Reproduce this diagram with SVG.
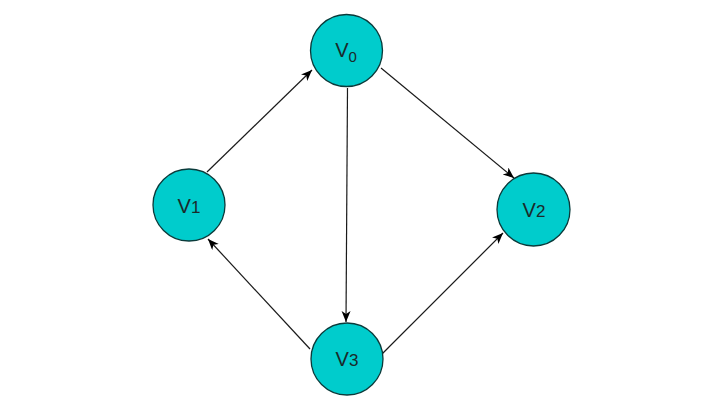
<svg xmlns="http://www.w3.org/2000/svg" width="720" height="405" viewBox="0 0 720 405">
  <style>
    .node circle { fill: #00CCCC; stroke: #0a3a3a; stroke-width: 1.3; }
    .node text { font-family: "Liberation Sans", Arial, sans-serif; font-size: 20px; fill: #1a2a2a; text-anchor: middle; }
    .sub { font-size: 15px; }
    .edge { stroke: #1a1a1a; stroke-width: 1.2; fill: none; marker-end: url(#arrow); }
  </style>
  <defs>
    <marker id="arrow" markerUnits="userSpaceOnUse" markerWidth="12" markerHeight="10" refX="11" refY="4.5" orient="auto" viewBox="0 0 12 10">
      <path d="M11,4.5 L0,0 L3,4.5 L0,9 Z" fill="#000"/>
    </marker>
  </defs>
  <rect width="720" height="405" fill="#ffffff"/>
  <g id="connectors">
    <line class="edge" x1="207" y1="172" x2="312" y2="70"/>
    <line class="edge" x1="381" y1="68" x2="514" y2="178"/>
    <line class="edge" x1="347.5" y1="88" x2="346" y2="322"/>
    <line class="edge" x1="310" y1="349" x2="208" y2="239"/>
    <line class="edge" x1="382" y1="354" x2="503" y2="233"/>
  </g>
  <g id="v0" class="node">
    <circle cx="346.5" cy="50.5" r="36"/>
    <text x="346" y="57">V<tspan class="sub" dy="5">0</tspan></text>
  </g>
  <g id="v1" class="node">
    <circle cx="189" cy="205" r="36"/>
    <text x="189" y="213">V<tspan style="font-size:17px">1</tspan></text>
  </g>
  <g id="v2" class="node">
    <circle cx="533.5" cy="209.5" r="36.5"/>
    <text x="534" y="217">V<tspan style="font-size:17px">2</tspan></text>
  </g>
  <g id="v3" class="node">
    <circle cx="347" cy="359" r="36"/>
    <text x="347" y="366">V<tspan style="font-size:17px">3</tspan></text>
  </g>
</svg>
